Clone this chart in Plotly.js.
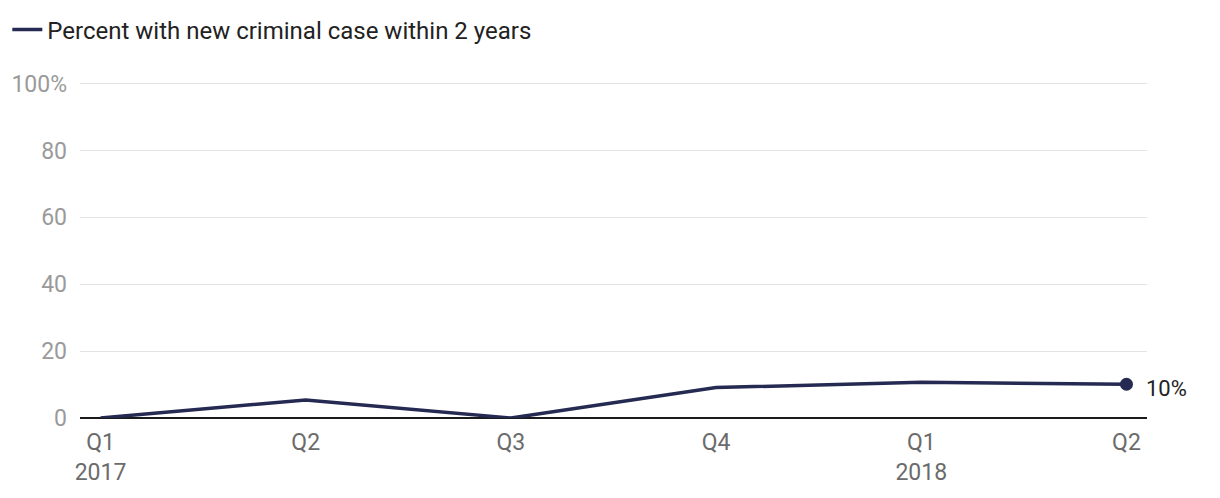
<!DOCTYPE html>
<html>
<head>
<meta charset="utf-8">
<script src="https://cdn.plot.ly/plotly-3.0.1.min.js"></script>
<style>
  html, body { margin: 0; padding: 0; background: #fff; }
  #chart { width: 1220px; height: 498px; }
</style>
</head>
<body>
<div id="chart"></div>
<script>
const quarters = ["Q1<br>2017", "Q2", "Q3", "Q4", "Q1<br>2018", "Q2"];
const pctNewCase = [0, 5.4, 0, 9.1, 10.7, 10.1];
const seriesName = "Percent with new criminal case within 2 years";
const yTicks = [0, 20, 40, 60, 80, 100];
const yTickText = ["0", "20", "40", "60", "80", "100%"];
const endLabel = "10%";

const navy = "#252a52";
const xIdx = quarters.map((_, i) => i);
const last = xIdx.length - 1;

const line = {
  x: xIdx,
  y: pctNewCase,
  mode: "lines",
  name: seriesName,
  line: { color: navy, width: 3.5 },
  hoverinfo: "y",
};

const endDot = {
  x: [xIdx[last]],
  y: [pctNewCase[last]],
  mode: "markers",
  showlegend: false,
  marker: { color: navy, size: 13 },
  hoverinfo: "skip",
};

const layout = {
  width: 1220,
  height: 498,
  margin: { l: 80, r: 73, t: 77, b: 80 },
  paper_bgcolor: "#fff",
  plot_bgcolor: "#fff",
  font: { family: "Roboto, sans-serif", size: 23, color: "#222" },
  showlegend: true,
  legend: {
    orientation: "h",
    xref: "container",
    yref: "container",
    x: 0.006,
    y: 0.985,
    xanchor: "left",
    yanchor: "top",
    font: { size: 24, color: "#222" },
    itemwidth: 30,
  },
  xaxis: {
    range: [-0.1, 5.1],
    tickvals: xIdx,
    ticktext: quarters,
    showgrid: false,
    zeroline: false,
    showline: false,
    ticks: "",
    ticklabelstandoff: 8,
    tickfont: { size: 23, color: "#6b6b6b" },
    fixedrange: true,
  },
  yaxis: {
    range: [0, 102],
    tickvals: yTicks,
    ticktext: yTickText,
    showgrid: true,
    gridcolor: "#e3e3e3",
    gridwidth: 1,
    zeroline: true,
    zerolinecolor: "#1a1a1a",
    zerolinewidth: 2,
    showline: false,
    ticks: "",
    ticklabelstandoff: 12,
    tickfont: { size: 23, color: "#9a9a9a" },
    fixedrange: true,
  },
  annotations: [
    {
      x: xIdx[last],
      y: pctNewCase[last],
      xref: "x",
      yref: "y",
      text: endLabel,
      showarrow: false,
      xanchor: "left",
      yanchor: "middle",
      xshift: 18,
      yshift: -4,
      font: { size: 22, color: "#222" },
    },
  ],
};

Plotly.newPlot("chart", [line, endDot], layout, { displayModeBar: false, staticPlot: true });
</script>
</body>
</html>
